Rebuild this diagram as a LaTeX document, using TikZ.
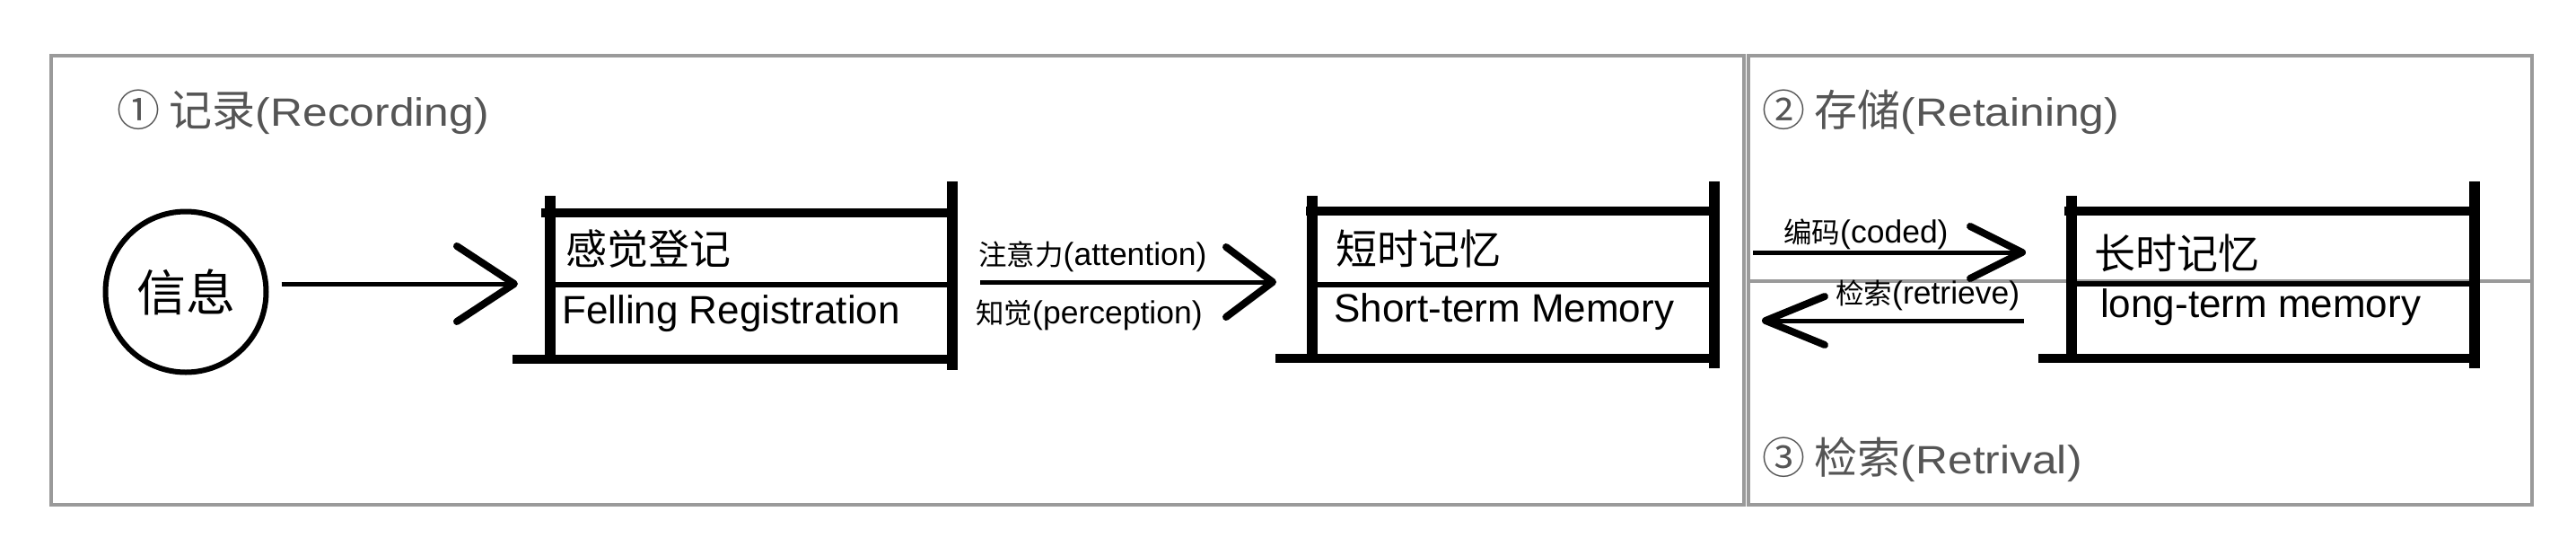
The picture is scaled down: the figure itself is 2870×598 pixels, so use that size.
\documentclass[tikz,border=0pt]{standalone}
\usepackage{fontspec}
\usepackage{graphicx}
\setmainfont{Liberation Sans}
\newfontfamily\cjk{Noto Sans CJK SC}
\usetikzlibrary{arrows.meta}
\definecolor{framegray}{HTML}{9A9A9A}
\definecolor{titlegray}{HTML}{555555}
\newcommand\cjkTitle{\cjk\fontsize{48}{54}\selectfont}
\newcommand\latTitle[1]{\scalebox{1.13}[1]{\fontsize{44}{50}\selectfont #1}}
\newcommand\cjkBox{\cjk\fontsize{46}{52}\selectfont}
\newcommand\cjkLbl{\cjk\fontsize{31.5}{36}\selectfont}
\begin{document}
\begin{tikzpicture}[x=1pt,y=-1pt,
  panel/.style={draw=framegray,line width=4pt},
  hbar/.style={line width=10pt},
  post/.style={line width=12pt},
  midbar/.style={line width=6pt},
  title/.style={anchor=base west,inner sep=0pt,text=titlegray},
  boxcjk/.style={anchor=base west,inner sep=0pt,font=\cjkBox},
  boxlat/.style={anchor=base west,inner sep=0pt,font=\fontsize{44}{50}\selectfont},
  lbl/.style={anchor=base west,inner sep=0pt,font=\fontsize{35.5}{40}\selectfont},
  flow/.style={line width=5pt},
]
\useasboundingbox[fill=white] (0,0) rectangle (2870,598);

% panels
\draw[panel] (57,62) rectangle (1943,562);
\draw[panel] (1948,62) rectangle (2821,562);
\draw[panel] (1948,313) -- (2821,313);

% titles
\node[title] (t1) at (130,140) {{\cjkTitle ① 记录}\latTitle{(Recording)}};
\node[title] (t2) at (1963,140) {{\cjkTitle ② 存储}\latTitle{(Retaining)}};
\node[title] (t3) at (1963,527) {{\cjkTitle ③ 检索}\latTitle{(Retrival)}};

% information circle
\node[circle,draw,line width=6pt,minimum size=179pt,inner sep=0pt,
      font=\cjk\fontsize{55}{60}\selectfont] (info) at (207,325) {信息};

% box 1: sensory register
\draw[post] (613,218) -- (613,405);
\draw[hbar] (603,237) -- (1061,237);
\draw[midbar] (613,317) -- (1061,317);
\draw[hbar] (571,400) -- (1061,400);
\draw[post] (1061,202) -- (1061,412);
\node[boxcjk] (sr1) at (630,294) {感觉登记};
\node[boxlat] (sr2) at (626,360) {Felling Registration};

% box 2: short-term memory
\draw[post] (1462,218) -- (1462,400);
\draw[hbar] (1455,235) -- (1910,235);
\draw[midbar] (1462,317) -- (1910,317);
\draw[hbar] (1421,399) -- (1910,399);
\draw[post] (1910,202) -- (1910,410);
\node[boxcjk] (st1) at (1488,294) {短时记忆};
\node[boxlat] (st2) at (1486,358) {Short-term Memory};

% box 3: long-term memory
\draw[post] (2308,218) -- (2308,399);
\draw[hbar] (2300,235) -- (2757,235);
\draw[midbar] (2308,316) -- (2757,316);
\draw[hbar] (2271,399) -- (2757,399);
\draw[post] (2757,202) -- (2757,410);
\node[boxcjk] (lt1) at (2333,299) {长时记忆};
\node[boxlat] (lt2) at (2340,353) {long-term memory};

% arrow end points
\coordinate (a1e) at (577,316);
\coordinate (a2s) at (1092,314);
\coordinate (a2e) at (1422,314);
\coordinate (a3s) at (1953,281);
\coordinate (a3e) at (2257,281);
\coordinate (a4s) at (2255,357);
\coordinate (a4e) at (1963,357);

\draw[flow,shorten <=14pt,-{Straight Barb[length=64pt,width=84pt,line width=8pt,round]}] (info.east |- a1e) -- (a1e);
\draw[flow,-{Straight Barb[length=52pt,width=78pt,line width=8pt,round]}] (a2s) -- (a2e);
\draw[flow,-{Straight Barb[length=58pt,width=58pt,line width=8pt,round]}] (a3s) -- (a3e);
\draw[flow,-{Straight Barb[length=66pt,width=54pt,line width=8pt,round]}] (a4s) -- (a4e);

% arrow labels
\node[lbl] (l1) at (1090,295) {{\cjkLbl 注意力}(attention)};
\node[lbl] (l2) at (1087,360) {{\cjkLbl 知觉}(perception)};
\node[lbl] (l3) at (1987,270) {{\cjkLbl 编码}(coded)};
\node[lbl] (l4) at (2045,338) {{\cjkLbl 检索}(retrieve)};
\end{tikzpicture}
\end{document}
